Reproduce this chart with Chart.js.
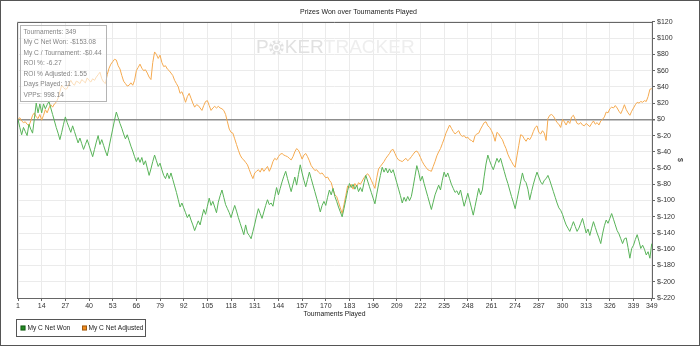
<!DOCTYPE html>
<html>
<head>
<meta charset="utf-8">
<title>Prizes Won over Tournaments Played</title>
<script src="https://cdn.jsdelivr.net/npm/chart.js@4.4.1/dist/chart.umd.min.js"></script>
<style>
    html, body { margin: 0; padding: 0; background: #fff; }
    canvas { display: block; }
</style>
</head>
<body>
<canvas id="prizes-chart" width="700" height="346"></canvas>
<script>
// x axis: one point per tournament played
const tournaments = Array.from({ length: 349 }, (_, i) => i + 1);
const xTickLabels = [1, 14, 27, 40, 53, 66, 79, 92, 105, 118, 131, 144, 157, 170, 183, 196, 209, 222, 235, 248, 261, 274, 287, 300, 313, 326, 339, 349];

// running totals in dollars
const netWon = [
    0, -10, -19, -10, -15, -20, -6, -12, -17, 1,
    20, 8, 19, 8, 19, 13, 18, 22, 14, 6,
    -2, -10, -17, -25, -16, -6, 3, -4, -10, -16,
    -8, -15, -22, -29, -23, -30, -37, -31, -25, -32,
    -39, -46, -37, -28, -20, -31, -25, -32, -39, -45,
    -34, -23, -12, -1, 9, 2, -5, -11, -18, -24,
    -19, -26, -33, -39, -46, -52, -47, -53, -47, -56,
    -51, -60, -69, -61, -52, -44, -51, -58, -54, -62,
    -69, -73, -66, -73, -66, -74, -82, -90, -99, -108,
    -103, -109, -115, -121, -117, -124, -130, -137, -131, -125,
    -130, -120, -111, -117, -107, -97, -106, -101, -108, -115,
    -102, -94, -87, -96, -105, -110, -115, -121, -113, -106,
    -113, -121, -128, -135, -142, -130, -140, -143, -147, -138,
    -129, -119, -110, -116, -122, -114, -106, -99, -105, -103,
    -107, -95, -84, -93, -85, -77, -70, -64, -73, -81,
    -89, -80, -71, -81, -68, -56, -66, -75, -83, -74,
    -65, -73, -81, -89, -97, -105, -114, -106, -101, -106,
    -96, -87, -93, -85, -95, -101, -108, -114, -120, -110,
    -99, -88, -79, -84, -80, -86, -81, -89, -84, -89,
    -78, -69, -76, -83, -90, -97, -104, -92, -80, -69,
    -59, -65, -60, -66, -61, -66, -62, -70, -78, -86,
    -94, -103, -96, -101, -95, -100, -95, -83, -70, -57,
    -65, -76, -70, -79, -87, -95, -103, -111, -102, -93,
    -87, -81, -87, -75, -65, -71, -66, -73, -80, -85,
    -90, -88, -93, -87, -97, -107, -99, -91, -100, -109,
    -118, -107, -96, -85, -93, -87, -70, -55, -44, -51,
    -57, -62, -55, -48, -53, -48, -56, -64, -72, -79,
    -87, -95, -102, -110, -99, -88, -77, -66, -75, -78,
    -86, -99, -89, -80, -72, -65, -71, -77, -80, -75,
    -73, -69, -75, -82, -89, -96, -103, -109, -112, -117,
    -124, -130, -134, -138, -132, -126, -132, -138, -134, -128,
    -122, -131, -140, -135, -143, -134, -126, -133, -140, -146,
    -153, -141, -131, -124, -128, -122, -116, -123, -130, -137,
    -141, -147, -153, -147, -146, -158, -171, -159, -155, -148,
    -142, -150, -159, -155, -160, -167, -163, -171, -153.08
];

const netAdjusted = [
    0, 2, -2, -4, -3, -6, -8, -2, 5, 8,
    3, 1, 6, -1, 5, 12, 8, 14, 18, 15,
    19, 21, 26, 34, 42, 39, 37, 38, 44, 48,
    44, 42, 47, 46, 44, 49, 47, 45, 51, 48,
    46, 50, 48, 52, 55, 58, 50, 46, 44, 55,
    63, 68, 71, 74, 73, 66, 62, 54, 47, 44,
    41, 42, 45, 42, 48, 60, 64, 68, 63, 60,
    61, 57, 52, 49, 70, 83, 80, 75, 79, 70,
    65, 66, 62, 60, 57, 54, 48, 44, 40, 32,
    34, 28, 21, 28, 32, 26, 20, 15, 18, 17,
    14, 11, 17, 22, 23, 17, 11, 14, 16, 14,
    16, 14, 13, 11, 6, -3, -12, -16, -17, -24,
    -31, -38, -44, -48, -50, -53, -56, -62, -68, -73,
    -66, -64, -62, -65, -60, -64, -61, -58, -64, -59,
    -52, -48, -50, -46, -43, -42, -44, -45, -46, -48,
    -50, -46, -40, -36, -38, -43, -49, -44, -42, -46,
    -51, -57, -60, -63, -62, -65, -67, -66, -69, -72,
    -71, -75, -78, -86, -93, -95, -102, -109, -116, -105,
    -94, -82, -84, -80, -86, -79, -83, -78, -80, -76,
    -72, -69, -67, -70, -75, -80, -85, -72, -61, -58,
    -55, -52, -48, -45, -42, -38, -37, -42, -47, -50,
    -51, -52, -50, -48, -51, -49, -46, -43, -40, -39,
    -42, -47, -52, -56, -59, -62, -63, -64, -58, -52,
    -45, -40, -36, -30, -24, -17, -12, -7, -11, -15,
    -18, -16, -14, -19, -21, -20, -23, -22, -25, -26,
    -28, -20, -18, -17, -12, -8, -4, -3, -8, -10,
    -14, -19, -27, -16, -18, -22, -25, -31, -36, -43,
    -48, -52, -56, -59, -45, -32, -19, -20, -24, -27,
    -23, -25, -21, -15, -10, -8, -16, -18, -14, -17,
    -26, 1, 5, 6, 4, 0, -4, -6, -10, 0,
    -3, -7, -2, -5, 3, 5, 0, -5, -6, -4,
    -7, -8, -5, -7, -9, -5, -2, -6, -4, -7,
    -2, 0, 3, 9, 8, 13, 15, 14, 17, 14,
    10, 7, 12, 18, 12, 8, 5, 10, 14, 18,
    21, 20, 22, 21, 23, 22, 28, 37, 37.84
];

const seriesNames = ['My C Net Won', 'My C Net Adjusted'];
const sessionStats = [
    'Tournaments: 349',
    'My C Net Won: -$153.08',
    'My C / Tournament: -$0.44',
    'ROI %: -6.27',
    'ROI % Adjusted: 1.55',
    'Days Played: 11',
    'VPPs: 998.14'
];

const lineColors = ['#58b358', '#f5aa50'];
const swatchColors = ['#228b22', '#f28c1c'];
const FONT = '"Liberation Sans", Arial, sans-serif';

Chart.defaults.font.family = FONT;
Chart.defaults.font.size = 7;
Chart.defaults.color = '#333';

function drawWatermark(ctx) {
    ctx.save();
    ctx.font = `19px ${FONT}`;
    ctx.textBaseline = 'middle';
    const y = 47.5;
    let x = 256;
    ctx.fillStyle = '#e1e1e1';
    ctx.fillText('P', x, y);
    x += ctx.measureText('P').width + 0.5;
    // poker chip standing in for the O
    const r = 7.3;
    const cx = x + r;
    ctx.beginPath();
    ctx.arc(cx, y, r, 0, Math.PI * 2);
    ctx.fill();
    ctx.fillStyle = '#fff';
    for (let k = 0; k < 8; k++) {
        ctx.save();
        ctx.translate(cx, y);
        ctx.rotate(k * Math.PI / 4);
        ctx.fillRect(r - 2.6, -1.1, 2.6, 2.2);
        ctx.restore();
    }
    ctx.beginPath();
    ctx.arc(cx, y, r * 0.5, 0, Math.PI * 2);
    ctx.fill();
    ctx.fillStyle = '#e1e1e1';
    ctx.beginPath();
    ctx.arc(cx, y, r * 0.3, 0, Math.PI * 2);
    ctx.fill();
    x = cx + r + 1;
    ctx.fillText('KER', x, y);
    x += ctx.measureText('KER').width;
    ctx.fillStyle = '#eeeeee';
    ctx.fillText('TRACKER', x, y);
    ctx.restore();
}

function drawStatsBox(ctx) {
    ctx.save();
    ctx.fillStyle = 'rgba(255,255,255,0.6)';
    ctx.fillRect(20.5, 25.5, 86, 76);
    ctx.strokeStyle = '#b4b4b4';
    ctx.lineWidth = 1;
    ctx.strokeRect(20.5, 25.5, 86, 76);
    ctx.font = `6.6px ${FONT}`;
    ctx.fillStyle = '#858585';
    ctx.textBaseline = 'middle';
    sessionStats.forEach((line, i) => {
        ctx.fillText(line, 23.5, 31.8 + i * 10.55);
    });
    ctx.restore();
}

function drawLegendBox(ctx) {
    ctx.save();
    ctx.strokeStyle = '#555';
    ctx.lineWidth = 1;
    ctx.strokeRect(16.5, 319.5, 129, 17);
    ctx.font = `6.6px ${FONT}`;
    ctx.textBaseline = 'middle';
    const items = [{ sx: 20.5, tx: 27.5 }, { sx: 82, tx: 88.5 }];
    items.forEach((item, i) => {
        ctx.fillStyle = swatchColors[i];
        ctx.fillRect(item.sx, 325.5, 5, 5);
        ctx.strokeStyle = 'rgba(0,0,0,0.35)';
        ctx.strokeRect(item.sx + 0.5, 326, 4, 4);
        ctx.fillStyle = '#222';
        ctx.fillText(seriesNames[i], item.tx, 328.2);
    });
    ctx.restore();
}

const prizesDecor = {
    id: 'prizesDecor',
    beforeDatasetsDraw(chart) {
        drawWatermark(chart.ctx);
    },
    afterDatasetsDraw(chart) {
        const { ctx, chartArea: a } = chart;
        ctx.save();
        ctx.strokeStyle = '#666';
        ctx.lineWidth = 1;
        ctx.beginPath();
        ctx.moveTo(Math.round(a.left) + 0.5, Math.round(a.bottom));
        ctx.lineTo(Math.round(a.left) + 0.5, Math.round(a.top) + 0.5);
        ctx.lineTo(Math.round(a.right), Math.round(a.top) + 0.5);
        ctx.stroke();
        ctx.restore();
        drawStatsBox(ctx);
    },
    afterDraw(chart) {
        const ctx = chart.ctx;
        drawLegendBox(ctx);
        ctx.save();
        ctx.strokeStyle = '#555';
        ctx.lineWidth = 1;
        ctx.strokeRect(0.5, 0.5, 699, 345);
        ctx.restore();
    }
};

new Chart(document.getElementById('prizes-chart'), {
    type: 'line',
    data: {
        labels: tournaments,
        datasets: [
            {
                label: seriesNames[0],
                data: netWon,
                borderColor: lineColors[0],
                backgroundColor: swatchColors[0],
                borderWidth: 1,
                pointRadius: 0,
                tension: 0
            },
            {
                label: seriesNames[1],
                data: netAdjusted,
                borderColor: lineColors[1],
                backgroundColor: swatchColors[1],
                borderWidth: 1,
                pointRadius: 0,
                tension: 0
            }
        ]
    },
    options: {
        responsive: false,
        animation: false,
        devicePixelRatio: 1,
        layout: { padding: { left: 17, right: 0, top: 0, bottom: 27 } },
        plugins: {
            legend: { display: false },
            tooltip: { enabled: false },
            title: {
                display: true,
                text: 'Prizes Won over Tournaments Played',
                color: '#222',
                font: { size: 7, weight: 'normal' },
                padding: { top: 8, bottom: 5.5 }
            }
        },
        scales: {
            x: {
                type: 'linear',
                min: 0.45,
                max: 349.15,
                afterBuildTicks: scale => {
                    scale.ticks = xTickLabels.map(v => ({ value: v }));
                },
                afterFit: scale => { scale.height = 21; },
                ticks: { autoSkip: false, maxRotation: 0, padding: 1, color: '#333' },
                grid: { color: '#ebebeb', tickLength: 3, tickColor: '#666' },
                border: { color: '#666' },
                title: {
                    display: true,
                    text: 'Tournaments Played',
                    color: '#222',
                    font: { size: 6.8 },
                    padding: { top: 0, bottom: 1 }
                }
            },
            y: {
                position: 'right',
                min: -220,
                max: 120,
                afterFit: scale => { scale.width = 48; },
                ticks: {
                    stepSize: 20,
                    padding: 2,
                    color: '#333',
                    callback: v => '$' + v
                },
                grid: {
                    color: ctx => ctx.tick.value === 0 ? '#8d8d8d' : '#ebebeb',
                    lineWidth: ctx => ctx.tick.value === 0 ? 1.6 : 1,
                    tickLength: 3,
                    tickColor: '#666'
                },
                border: { color: '#666' },
                title: {
                    display: true,
                    text: '$',
                    color: '#222',
                    font: { size: 7 },
                    padding: { top: 16, bottom: 0 }
                }
            }
        }
    },
    plugins: [prizesDecor]
});
</script>
</body>
</html>
